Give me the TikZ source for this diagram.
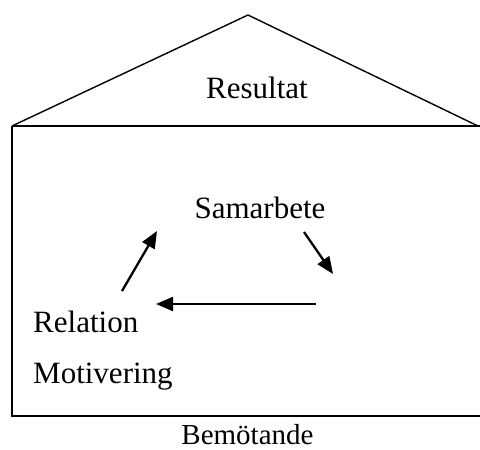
\documentclass[tikz,border=0pt]{standalone}
\usepackage{fontspec}
\setmainfont{Liberation Serif}
\usetikzlibrary{arrows.meta}
\begin{document}
\begin{tikzpicture}[x=1pt,y=-1pt,
  lbl/.style={inner sep=0pt,font=\fontsize{31}{37}\selectfont},
  smalllbl/.style={inner sep=0pt,font=\fontsize{29}{35}\selectfont},
  arr/.style={line width=2.3pt,-{Triangle[length=17pt,width=14pt]}},
  wall/.style={line width=1.8pt},
  roof/.style={line width=1.4pt,line join=miter}]
\useasboundingbox (0,0) rectangle (480,450);
% house
\coordinate (apex) at (248,15);
\coordinate (eaveL) at (12,126);
\coordinate (eaveR) at (478,126);
\draw[roof] (eaveL) -- (apex) -- (eaveR);
\draw[wall] (12,126) -- (484,126);
\draw[wall] (12,126) -- (12,416) -- (484,416);
% labels
\node[lbl,anchor=base] (res) at (257,98) {Resultat};
\node[lbl,anchor=base] (sam) at (260,218) {Samarbete};
\node[lbl,anchor=base west] (rel) at (33,332) {Relation};
\node[lbl,anchor=base west] (mot) at (33,383) {Motivering};
\node[smalllbl,anchor=base] (bem) at (247.5,444) {Bemötande};
% arrows
\coordinate (a1s) at (122,291);
\coordinate (a1e) at (157,231);
\coordinate (a2s) at (304,232);
\coordinate (a2e) at (333,274);
\coordinate (a3s) at (316,304);
\coordinate (a3e) at (156,304);
\draw[arr] (a1s) -- (a1e);
\draw[arr] (a2s) -- (a2e);
\draw[arr] (a3s) -- (a3e);
\end{tikzpicture}
\end{document}
